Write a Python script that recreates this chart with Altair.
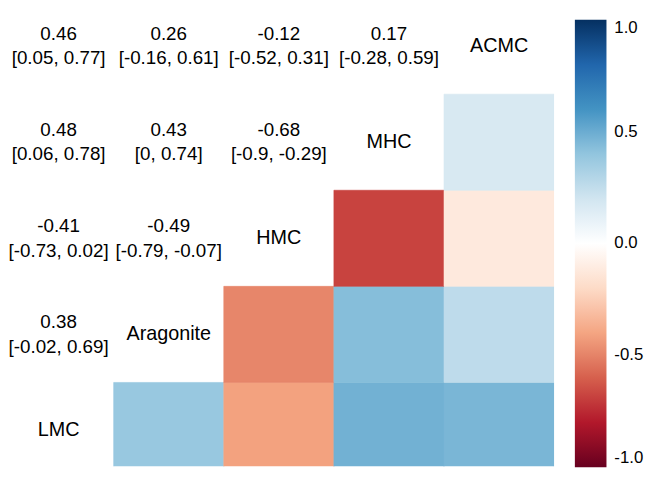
import altair as alt
import pandas as pd

# variables (diagonal order, left->right)
variables = ["LMC", "Aragonite", "HMC", "MHC", "ACMC"]
# pairs (index a < index b)
pair_a = [0, 0, 0, 0, 1, 1, 1, 2, 2, 3]
pair_b = [1, 2, 3, 4, 2, 3, 4, 3, 4, 4]
r_vals = [0.38, -0.41, 0.48, 0.46, -0.49, 0.43, 0.26, -0.68, -0.12, 0.17]
ci_lo = [-0.02, -0.73, 0.06, 0.05, -0.79, 0, -0.16, -0.9, -0.52, -0.28]
ci_hi = [0.69, 0.02, 0.78, 0.77, -0.07, 0.74, 0.61, -0.29, 0.31, 0.59]

legend_values = [-1.0, -0.5, 0.0, 0.5, 1.0]
pal_domain = [-1, -0.8, -0.6, -0.4, -0.2, 0, 0.2, 0.4, 0.6, 0.8, 1]
pal_colors = ["#67001F", "#B2182B", "#D6604D", "#F4A582", "#FDDBC7", "#FFFFFF",
              "#D1E5F0", "#92C5DE", "#4393C3", "#2166AC", "#053061"]

n = len(variables)
tiles = pd.DataFrame({
    "x": pair_b,
    "x2": [b + 1 for b in pair_b],
    "y": [n - 1 - a for a in pair_a],
    "y2": [n - a for a in pair_a],
    "r": r_vals,
})
texts = pd.DataFrame({
    "xc": [a + 0.5 for a in pair_a],
    "yc": [n - 1 - b + 0.5 for b in pair_b],
    "label": [f"{r:g}\n[{lo:g}, {hi:g}]" for r, lo, hi in zip(r_vals, ci_lo, ci_hi)],
})
diag = pd.DataFrame({
    "xc": [k + 0.5 for k in range(n)],
    "yc": [n - 1 - k + 0.5 for k in range(n)],
    "name": variables,
})

FONT = "Liberation Sans"
xscale = alt.Scale(domain=[0.0404, 5], nice=False, zero=False)
yscale = alt.Scale(domain=[0.1336, 4.8715], nice=False, zero=False, reverse=True)

tile_layer = alt.Chart(tiles).mark_rect(
    clip=True, strokeWidth=0.6, stroke=alt.expr("scale('color', datum.r)")
).encode(
    x=alt.X("x:Q", scale=xscale, axis=None),
    x2="x2:Q",
    y=alt.Y("y:Q", scale=yscale, axis=None),
    y2="y2:Q",
    color=alt.Color(
        "r:Q",
        scale=alt.Scale(domain=pal_domain, range=pal_colors, interpolate="rgb"),
        legend=alt.Legend(
            title=None, orient="none", legendX=574, legendY=9, padding=0,
            gradientLength=453, gradientThickness=32, gradientStrokeWidth=0,
            values=legend_values,
            labelExpr="(datum.value < 0 ? '-' : '') + format(abs(datum.value), '.1f')",
            labelFontSize=17, labelFont=FONT, labelColor="#000000", labelOffset=8,
            labelBaseline="middle", labelOverlap=False,
        ),
    ),
)

text_layer = alt.Chart(texts).mark_text(
    font=FONT, fontSize=19, lineBreak="\n", lineHeight=25, color="#000000",
    baseline="middle", align="center", dy=-12.5
).encode(
    x=alt.X("xc:Q", scale=xscale, axis=None),
    y=alt.Y("yc:Q", scale=yscale, axis=None),
    text="label:N",
)

diag_layer = alt.Chart(diag).mark_text(
    font=FONT, fontSize=20, color="#000000", baseline="middle", align="center"
).encode(
    x=alt.X("xc:Q", scale=xscale, axis=None),
    y=alt.Y("yc:Q", scale=yscale, axis=None),
    text="name:N",
)

chart = alt.layer(tile_layer, text_layer, diag_layer).properties(
    width=553, height=461,
    autosize=alt.AutoSizeParams(type="none"),
    padding={"left": 0, "top": 0, "right": 91, "bottom": 8},
).configure_view(stroke=None)

chart.save("out.html", embed_options={"renderer": "svg", "actions": False})
